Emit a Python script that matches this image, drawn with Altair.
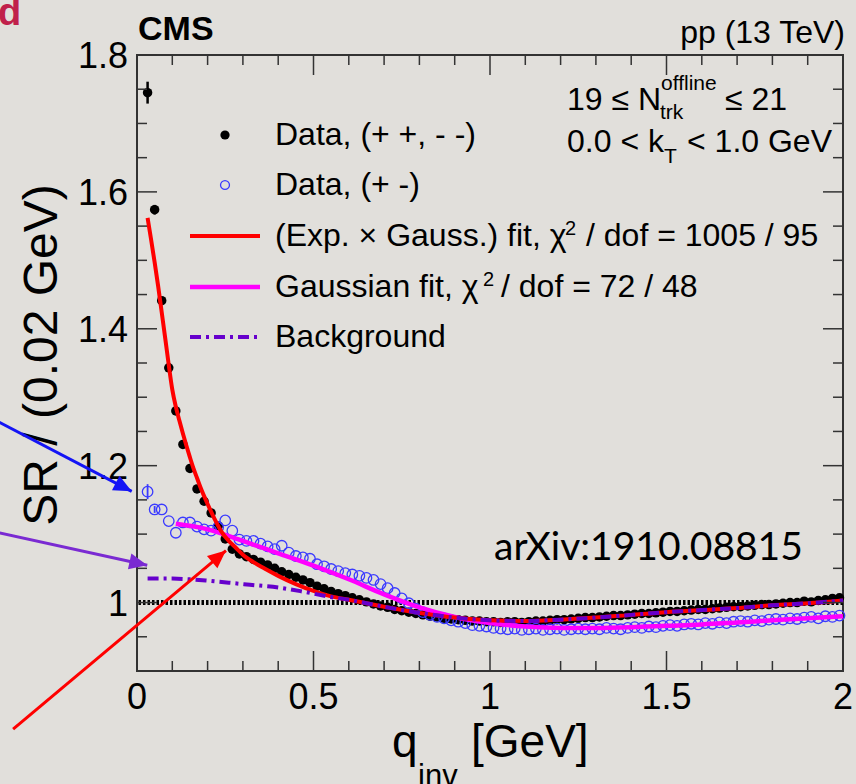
import math
import altair as alt
import pandas as pd

# ---------------- data ----------------
q_bins = [round(0.03 + 0.02 * i, 2) for i in range(99)]

sr_same = [1.745, 1.574, 1.441, 1.343, 1.280, 1.231, 1.196, 1.166, 1.148, 1.131,
           1.112, 1.093, 1.078, 1.071, 1.067, 1.063, 1.059, 1.055, 1.050, 1.045,
           1.041, 1.037, 1.033, 1.029, 1.024, 1.020, 1.016, 1.013, 1.010, 1.007,
           1.004, 1.001, 0.998, 0.995, 0.993, 0.990, 0.988, 0.986, 0.984, 0.982,
           0.980, 0.979, 0.977, 0.976, 0.975, 0.974, 0.973, 0.973, 0.972, 0.972,
           0.971, 0.972, 0.972, 0.971, 0.972, 0.973, 0.973, 0.974, 0.975, 0.975,
           0.976, 0.977, 0.978, 0.978, 0.979, 0.980, 0.981, 0.981, 0.982, 0.983,
           0.984, 0.984, 0.985, 0.986, 0.987, 0.987, 0.988, 0.989, 0.990, 0.990,
           0.991, 0.992, 0.993, 0.994, 0.994, 0.995, 0.996, 0.997, 0.997, 0.998,
           0.999, 1.000, 1.000, 1.002, 1.001, 1.003, 1.004, 1.006, 1.007]

sr_opp = [1.162, 1.136, 1.136, 1.119, 1.102, 1.117, 1.117, 1.111, 1.107, 1.105,
          1.110, 1.120, 1.105, 1.092, 1.090, 1.090, 1.086, 1.082, 1.078, 1.083,
          1.073, 1.068, 1.066, 1.064, 1.056, 1.053, 1.049, 1.046, 1.043, 1.041,
          1.039, 1.036, 1.033, 1.027, 1.021, 1.014, 1.006, 0.999, 0.991, 0.986,
          0.982, 0.979, 0.977, 0.974, 0.972, 0.970, 0.967, 0.966, 0.965, 0.963,
          0.962, 0.961, 0.962, 0.960, 0.961, 0.962, 0.960, 0.961, 0.962, 0.960,
          0.961, 0.962, 0.961, 0.962, 0.961, 0.963, 0.962, 0.961, 0.963, 0.964,
          0.963, 0.965, 0.964, 0.966, 0.967, 0.966, 0.968, 0.969, 0.968, 0.970,
          0.969, 0.971, 0.970, 0.972, 0.973, 0.972, 0.974, 0.973, 0.975, 0.976,
          0.975, 0.977, 0.976, 0.978, 0.979, 0.977, 0.980, 0.979, 0.981]

err_same_q = [0.03, 0.05, 0.07]
err_same = [0.016, 0.007, 0.004]
err_opp_q = [0.03, 0.05]
err_opp = [0.011, 0.005]

fit_exp_q = [0.03, 0.04, 0.05, 0.06, 0.07, 0.08, 0.09, 0.10, 0.11, 0.12, 0.13, 0.14,
             0.15, 0.16, 0.17, 0.18, 0.20, 0.22, 0.24, 0.26, 0.28, 0.30, 0.33, 0.36,
             0.40, 0.45, 0.50, 0.55, 0.60, 0.65, 0.70, 0.75, 0.80, 0.90, 1.00, 1.10,
             1.20, 1.30, 1.40, 1.50, 1.60, 1.70, 1.80, 1.90, 2.00]
fit_exp_sr = [1.562, 1.530, 1.497, 1.462, 1.424, 1.386, 1.347, 1.311, 1.286, 1.266,
              1.247, 1.229, 1.212, 1.196, 1.182, 1.168, 1.144, 1.122, 1.103, 1.090,
              1.080, 1.070, 1.059, 1.050, 1.039, 1.027, 1.017, 1.009, 1.004, 0.999,
              0.994, 0.989, 0.985, 0.978, 0.974, 0.973, 0.975, 0.978, 0.982, 0.986,
              0.989, 0.992, 0.996, 0.999, 1.003]

fit_gauss_q = [0.11, 0.20, 0.30, 0.40, 0.50, 0.60, 0.70, 0.80, 0.90, 1.00, 1.10,
               1.20, 1.30, 1.40, 1.50, 1.60, 1.70, 1.80, 1.90, 2.00]
fit_gauss_sr = [1.115, 1.107, 1.090, 1.072, 1.054, 1.034, 1.012, 0.993, 0.979, 0.970,
                0.965, 0.963, 0.963, 0.964, 0.966, 0.968, 0.971, 0.974, 0.977, 0.980]

bkg_q = [0.03, 0.10, 0.15, 0.20, 0.26, 0.32, 0.40, 0.47, 0.55, 0.60, 0.65, 0.70,
         0.75, 0.80, 0.90, 1.00, 1.10, 1.20, 1.30, 1.40, 1.50, 1.60, 1.70, 1.80,
         1.90, 2.00]
bkg_sr = [1.035, 1.035, 1.034, 1.032, 1.029, 1.026, 1.022, 1.016, 1.008, 1.004,
          0.999, 0.994, 0.989, 0.985, 0.978, 0.974, 0.973, 0.975, 0.978, 0.982,
          0.986, 0.989, 0.992, 0.996, 0.999, 1.003]

x_major = [0, 0.5, 1, 1.5, 2]
x_major_labels = ["0", "0.5", "1", "1.5", "2"]
x_minor = [0.1, 0.2, 0.3, 0.4, 0.6, 0.7, 0.8, 0.9, 1.1, 1.2, 1.3, 1.4,
           1.6, 1.7, 1.8, 1.9]
y_major = [1.0, 1.2, 1.4, 1.6, 1.8]
y_major_labels = ["1", "1.2", "1.4", "1.6", "1.8"]
y_minor = [0.95, 1.05, 1.1, 1.15, 1.25, 1.3, 1.35, 1.45, 1.5, 1.55, 1.65, 1.7, 1.75]

# annotation arrows (start -> tip), in axis units
arrow_color = ["#1414f5", "#7a2ad2", "#ff0000"]
arrow_q0 = [-0.40, -0.40, -0.351]
arrow_sr0 = [1.266, 1.103, 0.815]
arrow_q1 = [-0.015, 0.029, 0.252]
arrow_sr1 = [1.1625, 1.0545, 1.076]

# ---------------- layout ----------------
W, H = 706, 616
XMIN, XMAX, YMIN, YMAX = 0.0, 2.0, 0.9, 1.8
FONT = "Liberation Sans"
FRAME = "#333333"

xs = alt.Scale(domain=[XMIN, XMAX], nice=False, zero=False)
ys = alt.Scale(domain=[YMIN, YMAX], nice=False, zero=False)


def X(f):
    return alt.X(f, type="quantitative", scale=xs, axis=None)


def Y(f):
    return alt.Y(f, type="quantitative", scale=ys, axis=None)


one = pd.DataFrame({"a": [0]})


def txt(s, x, y, size, weight="normal", align="left", color="black", font=FONT, angle=0):
    return alt.Chart(pd.DataFrame({"t": [s]})).mark_text(
        font=font, fontSize=size, fontWeight=weight, align=align,
        baseline="alphabetic", color=color, angle=angle
    ).encode(x=alt.value(x), y=alt.value(y), text="t:N")


layers = []

# unity line
layers.append(alt.Chart(pd.DataFrame({"sr": [1.0]})).mark_rule(
    color="black", strokeWidth=5, strokeDash=[2.5, 2]).encode(y=Y("sr")))

# data
df_same = pd.DataFrame({"q": q_bins, "sr": sr_same})
df_opp = pd.DataFrame({"q": q_bins, "sr": sr_opp})
df_err_same = pd.DataFrame({"q": err_same_q,
                            "lo": [sr_same[q_bins.index(q)] - e for q, e in zip(err_same_q, err_same)],
                            "hi": [sr_same[q_bins.index(q)] + e for q, e in zip(err_same_q, err_same)]})
df_err_opp = pd.DataFrame({"q": err_opp_q,
                           "lo": [sr_opp[q_bins.index(q)] - e for q, e in zip(err_opp_q, err_opp)],
                           "hi": [sr_opp[q_bins.index(q)] + e for q, e in zip(err_opp_q, err_opp)]})

layers.append(alt.Chart(df_err_same).mark_rule(color="black", strokeWidth=2.5).encode(
    x=X("q"), y=Y("lo"), y2="hi"))
layers.append(alt.Chart(df_same).mark_circle(size=90, color="black", opacity=1).encode(
    x=X("q"), y=Y("sr")))
layers.append(alt.Chart(df_err_opp).mark_rule(color="#3a3aff", strokeWidth=1.8).encode(
    x=X("q"), y=Y("lo"), y2="hi"))
layers.append(alt.Chart(df_opp).mark_point(shape="circle", filled=False, size=110,
                                           strokeWidth=1.3, color="#3a3aff", opacity=1).encode(
    x=X("q"), y=Y("sr")))

# fits
layers.append(alt.Chart(pd.DataFrame({"q": fit_gauss_q, "sr": fit_gauss_sr})).mark_line(
    color="#ff00ff", strokeWidth=4.5, interpolate="monotone").encode(x=X("q"), y=Y("sr")))
layers.append(alt.Chart(pd.DataFrame({"q": fit_exp_q, "sr": fit_exp_sr})).mark_line(
    color="#ff0000", strokeWidth=4, interpolate="monotone").encode(x=X("q"), y=Y("sr")))
layers.append(alt.Chart(pd.DataFrame({"q": bkg_q, "sr": bkg_sr})).mark_line(
    color="#6600cc", strokeWidth=4, strokeDash=[11, 5, 3, 5], interpolate="monotone").encode(
    x=X("q"), y=Y("sr")))

# ticks (inside, mirrored)
dxM = pd.DataFrame({"t": x_major})
dxm = pd.DataFrame({"t": x_minor})
dyM = pd.DataFrame({"t": y_major})
dym = pd.DataFrame({"t": y_minor})
for d, L in ((dxM, 20), (dxm, 10)):
    layers.append(alt.Chart(d).mark_rule(color=FRAME, strokeWidth=1.5).encode(
        x=X("t"), y=alt.value(H), y2=alt.value(H - L)))
    layers.append(alt.Chart(d).mark_rule(color=FRAME, strokeWidth=1.5).encode(
        x=X("t"), y=alt.value(0), y2=alt.value(L)))
for d, L in ((dyM, 20), (dym, 10)):
    layers.append(alt.Chart(d).mark_rule(color=FRAME, strokeWidth=1.5).encode(
        y=Y("t"), x=alt.value(0), x2=alt.value(L)))
    layers.append(alt.Chart(d).mark_rule(color=FRAME, strokeWidth=1.5).encode(
        y=Y("t"), x=alt.value(W), x2=alt.value(W - L)))

# tick labels
layers.append(alt.Chart(pd.DataFrame({"t": x_major, "l": x_major_labels})).mark_text(
    font=FONT, fontSize=36, align="center", baseline="alphabetic", color="black").encode(
    x=X("t"), y=alt.value(654), text="l:N"))
layers.append(alt.Chart(pd.DataFrame({"t": y_major, "l": y_major_labels})).mark_text(
    font=FONT, fontSize=36, align="right", baseline="alphabetic", dy=13, color="black").encode(
    y=Y("t"), x=alt.value(-9), text="l:N"))

# axis titles
layers.append(txt("SR / (0.02 GeV)", -80, 300, 48, align="center", angle=270))
layers.append(txt("q", 255, 702, 46))
layers.append(txt("inv", 281, 731, 31))
layers.append(txt("[GeV]", 334, 702, 46))

# header texts
layers.append(txt("CMS", 1, -15, 34, weight="bold"))
layers.append(txt("pp (13 TeV)", 708, -12, 32, align="right"))
layers.append(txt("d", -139, -30, 38, weight="bold", color="#c0204a"))

# selection texts
layers.append(txt("19 \u2264 N", 430, 55, 32))
layers.append(txt("offline", 524, 35, 21))
layers.append(txt("trk", 523, 64, 21))
layers.append(txt("\u2264 21", 588, 55, 32))
layers.append(txt("0.0 < k", 430, 97, 32))
layers.append(txt("T", 527, 108, 21))
layers.append(txt("< 1.0 GeV", 550, 97, 32))

layers.append(txt("arXiv:1910.08815", 357, 505, 39, font="Lato"))

# legend
LX, TX = 88, 138
layers.append(alt.Chart(one).mark_circle(size=85, color="black", opacity=1).encode(
    x=alt.value(LX), y=alt.value(80)))
layers.append(alt.Chart(one).mark_point(shape="circle", filled=False, size=80, strokeWidth=1.3,
                                        color="#3a3aff", opacity=1).encode(
    x=alt.value(LX), y=alt.value(130)))
layers.append(alt.Chart(one).mark_rule(color="#ff0000", strokeWidth=4).encode(
    x=alt.value(53), x2=alt.value(123), y=alt.value(181)))
layers.append(alt.Chart(one).mark_rule(color="#ff00ff", strokeWidth=4.5).encode(
    x=alt.value(53), x2=alt.value(123), y=alt.value(232)))
layers.append(alt.Chart(one).mark_rule(color="#6600cc", strokeWidth=4, strokeDash=[11, 5, 3, 5]).encode(
    x=alt.value(53), x2=alt.value(123), y=alt.value(282)))

layers.append(txt("Data, (+ +, - -)", TX, 90, 32))
layers.append(txt("Data, (+ -)", TX, 140, 32))
layers.append(txt("(Exp. \u00d7 Gauss.) fit, \u03c7", TX, 191, 32))
layers.append(txt("2", 428, 180, 20))
layers.append(txt("/ dof = 1005 / 95", 449, 191, 32))
layers.append(txt("Gaussian fit, \u03c7", TX, 242, 32))
layers.append(txt("2", 346, 231, 20))
layers.append(txt("/ dof = 72 / 48", 364, 242, 32))
layers.append(txt("Background", TX, 292, 32))

# arrows
px_per_q = W / (XMAX - XMIN)
px_per_sr = H / (YMAX - YMIN)
arrow_angle = [
    (math.degrees(math.atan2((q1 - q0) * px_per_q, (s1 - s0) * px_per_sr)) + 360) % 360
    for q0, s0, q1, s1 in zip(arrow_q0, arrow_sr0, arrow_q1, arrow_sr1)
]
df_arrow = pd.DataFrame({"q": arrow_q0, "sr": arrow_sr0, "q2": arrow_q1, "sr2": arrow_sr1,
                         "c": arrow_color, "ang": arrow_angle})
layers.append(alt.Chart(df_arrow).mark_rule(strokeWidth=3, clip=False).encode(
    x=X("q"), y=Y("sr"), x2="q2", y2="sr2", color=alt.Color("c:N", scale=None)))
layers.append(alt.Chart(df_arrow).mark_point(
    shape="M0,0 L-0.45,1 L0.45,1 Z", filled=True, size=1296, opacity=1, strokeWidth=0,
    clip=False).encode(
    x=X("q2"), y=Y("sr2"), color=alt.Color("c:N", scale=None),
    angle=alt.Angle("ang:Q", scale=None)))

chart = alt.layer(*layers).properties(
    width=W, height=H,
    autosize=alt.AutoSizeParams(type="none"),
    padding={"left": 137, "top": 55, "right": 13, "bottom": 113},
).configure(background="#e1dfdb").configure_view(stroke=FRAME, strokeWidth=2)

chart.save("out.html", embed_options={"renderer": "svg", "actions": False})
